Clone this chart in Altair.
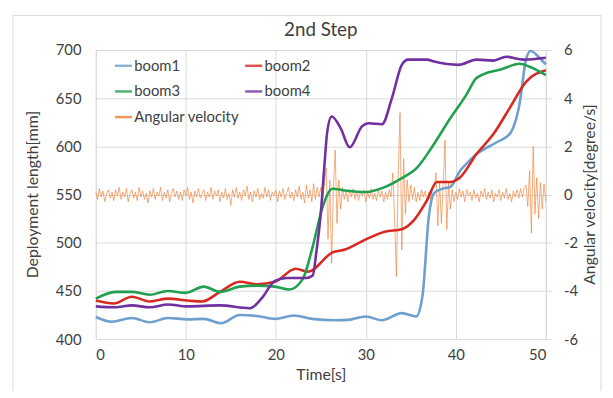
import altair as alt
import pandas as pd

# ---------------- data ----------------
series_names = ["boom1", "boom2", "boom3", "boom4", "Angular velocity"]
series_colors = ["#6E9FCE", "#D8281F", "#21A04F", "#7030A0", "#ED7D31"]

boom1_t = [0, 1.8, 4, 6, 8, 10.2, 12, 13.9, 16, 17.9, 19.9, 22, 24, 26.6, 28, 30, 31.8, 34, 35.6,
           36.3, 37, 37.6, 38.5, 39.4, 40.5, 41.2, 42.3, 44.5, 46, 47.1, 47.8, 48.3, 49.3, 50]
boom1_v = [423, 418, 422, 417.5, 422, 420.5, 421, 416.5, 425, 424, 421, 424.5, 421, 419.5, 420, 423.5,
           419.5, 427, 423.5, 445, 527, 551.5, 556, 558, 575, 582, 592, 604, 613, 645, 690, 699, 692, 685]

boom2_t = [0, 2, 4, 6, 8, 10.2, 11.8, 13.8, 16, 17.9, 19.9, 22.2, 23.6, 26.3, 27.7, 30, 32.1, 34,
           35.4, 36.8, 37.9, 39.4, 40.5, 42.3, 44.2, 46, 47.8, 50]
boom2_v = [440, 437, 444, 439, 442, 440, 439, 449, 459.5, 457, 459.5, 473, 470, 490, 493, 503.5, 511.5,
           514, 524, 544, 563, 563, 568, 592, 613, 640, 667, 679]

boom3_t = [0, 2.2, 4, 6, 8, 10, 12, 13.8, 16, 17.9, 19.9, 21.5, 23, 24.1, 25.2, 26.3, 27.5, 30, 32.1,
           34, 35.7, 37.6, 39.4, 41.2, 42.2, 43.1, 44.9, 47.1, 48.2, 50]
boom3_v = [442, 449, 449, 446, 450, 448, 454.5, 449, 454.5, 455.5, 454.5, 451.5, 462.5, 496, 537, 556,
           554.5, 552.6, 557.7, 567, 578, 602.8, 629.4, 654, 670, 675, 679.5, 685.7, 682.6, 674]

boom4_t = [0, 2.2, 4, 6, 8, 10.2, 13.8, 17.1, 18.4, 19.9, 21.2, 23.4, 24.1, 24.5, 25.0, 25.4, 25.7,
           26.2, 27.2, 28.2, 29.6, 30.3, 31.8, 32.9, 34, 34.7, 36.8, 37.6, 40.3, 42.3, 44.2, 45.6, 47.5, 50]
boom4_v = [434, 433, 435, 433, 436, 434, 435, 432, 442, 460.5, 463.5, 463.5, 466, 490, 531, 580, 614,
           631, 619, 599, 621, 624, 623, 650, 684.6, 690, 690, 688, 684.6, 690, 689, 693, 690, 692]

# angular velocity, sampled every 0.2 s from 0 to 50 s
ang_step = 0.2
ang_v = [
    0.1, -0.2, 0.25, -0.1, 0.15, -0.3, 0.05, 0.2, -0.15, 0.1,
    -0.25, 0.2, -0.05, 0.3, -0.2, 0.1, -0.1, 0.25, -0.3, 0.05,
    0.2, -0.15, 0.1, -0.25, 0.3, -0.1, 0.15, -0.2, 0.05, -0.35,
    0.15, -0.1, 0.25, -0.2, 0.1, -0.05, 0.3, -0.25, 0.1, -0.15,
    0.2, -0.3, 0.05, 0.25, -0.1, 0.15, -0.2, 0.1, -0.25, 0.2,
    -0.05, 0.3, -0.2, 0.1, -0.35, 0.15, -0.1, 0.25, -0.15, 0.05,
    0.2, -0.25, 0.1, -0.1, 0.3, -0.2, 0.15, -0.05, 0.2, -0.3,
    0.1, -0.15, 0.25, -0.2, 0.05, -0.45, 0.2, -0.1, 0.3, -0.15,
    0.1, -0.25, 0.2, -0.05, 0.35, -0.2, 0.1, -0.3, 0.15, -0.1,
    0.25, -0.2, 0.05, -0.15, 0.3, -0.1, 0.2, -0.25, 0.1, -0.05,
    0.2, -0.3, 0.15, -0.1, 0.25, -0.2, 0.05, 0.3, -0.15, 0.1,
    -0.25, 0.2, -0.1, 0.35, -0.2, 0.1, -0.35, 0.4, -0.15, 0.2,
    -0.3, 0.45, -0.2, 0.3, -0.1,
    # burst 1 (25.0 - 27.4)
    0.3, -0.3, 0.5, 1.1, -1.85, 0.6, -2.85, 0.3, 1.85, -1.2, 0.6, -0.6, 0.3,
    # quiet (27.6 - 32.8)
    -0.2, 0.15, -0.3, 0.2, -0.1, 0.25, -0.2, 0.1, -0.25, 0.15,
    -0.05, 0.2, -0.3, 0.1, -0.15, 0.25, -0.2, 0.05, -0.25, 0.2,
    -0.1, 0.15, -0.3, 0.1, -0.2, 0.2, -0.1,
    # burst 2 (33.0 - 34.8)
    0.9, -1.0, -3.4, 0.8, 3.4, -2.3, 1.5, -0.8, 0.6, -0.3,
    # quiet (35.0 - 37.4)
    0.4, -0.2, 0.3, -0.3, 0.1, -0.25, 0.2, -0.1, 0.15, -0.3, 0.1, -0.2, 0.3,
    # burst 3 (37.6 - 39.6)
    0.3, 0.9, -1.3, 0.5, -1.2, 0.4, 2.25, -1.45, 0.5, -0.6, 0.2,
    # quiet (39.8 - 47.6)
    -0.3, 0.1, -0.2, 0.25, -0.1, 0.15, -0.3, 0.2, -0.05, 0.1,
    -0.25, 0.2, -0.15, 0.05, -0.3, 0.15, -0.1, 0.25, -0.2, 0.1,
    -0.15, 0.2, -0.3, 0.05, -0.1, 0.2, -0.25, 0.1, -0.15, 0.25,
    -0.2, 0.05, -0.3, 0.15, -0.1, 0.2, -0.15, 0.25, -0.1, 0.3,
    # burst 4 (47.8 - 50.0)
    0.4, -0.5, 1.0, -1.6, 2.0, -0.8, 0.7, -1.0, 0.5, -0.6, 0.45, -0.3,
]

x_ticks = [0, 10, 20, 30, 40, 50]
left_ticks = [400, 450, 500, 550, 600, 650, 700]
right_ticks = [-6, -4, -2, 0, 2, 4, 6]

# ---------------- tables ----------------
rows = []
for name, ts, vs in [("boom1", boom1_t, boom1_v), ("boom2", boom2_t, boom2_v),
                     ("boom3", boom3_t, boom3_v), ("boom4", boom4_t, boom4_v)]:
    for t, v in zip(ts, vs):
        rows.append({"series": name, "t": t, "v": v})
booms = pd.DataFrame(rows)
ang = pd.DataFrame({"series": "Angular velocity",
                    "t": [round(i * ang_step, 2) for i in range(len(ang_v))],
                    "w": ang_v})

FONT = "Lato"
TXT = "#404040"
GRID = "#D9D9D9"

color = alt.Color("series:N",
                  scale=alt.Scale(domain=series_names, range=series_colors),
                  sort=series_names,
                  legend=alt.Legend(title=None, orient="none", legendX=18, legendY=6,
                                    direction="horizontal", columns=2,
                                    symbolType="stroke", symbolSize=300,
                                    symbolStrokeWidth=2.5, labelFontSize=15, labelFont=FONT,
                                    labelColor=TXT, labelOffset=1, columnPadding=0,
                                    rowPadding=8, padding=0, labelLimit=200))

xenc = alt.X("t:Q", scale=alt.Scale(domain=[0, 50], nice=False),
             axis=alt.Axis(values=x_ticks, title="Time[s]", grid=True, gridColor=GRID,
                           domain=False, ticks=False, labelPadding=9, labelFontSize=15,
                           titleFontSize=16, titlePadding=4, labelFont=FONT, titleFont=FONT,
                           labelColor=TXT, titleColor=TXT, titleFontWeight="normal"))

# light frame around the whole figure (decoration only)
frame = alt.Chart(pd.DataFrame({"k": [0]})).mark_rect(
    fill=None, stroke="#D9D9D9", strokeWidth=1
).encode(x=alt.value(-84), x2=alt.value(512), y=alt.value(-35), y2=alt.value(347))

ang_layer = alt.Chart(ang).mark_line(strokeWidth=0.8, opacity=0.8).encode(
    x=xenc,
    y=alt.Y("w:Q", scale=alt.Scale(domain=[-6, 6], nice=False),
            axis=alt.Axis(orient="right", values=right_ticks, title="Angular velocity[degree/s]",
                          labelExpr="'' + datum.value",
                          grid=False, domain=False, ticks=True, tickColor=GRID, tickSize=6,
                          labelPadding=12, labelFontSize=15, titleFontSize=16, labelFont=FONT,
                          titleFont=FONT, labelColor=TXT, titleColor=TXT,
                          titleFontWeight="normal", titleAngle=270, titleX=44, titleY=146,
                          titleAlign="center", titleBaseline="middle")),
    color=color,
    order="t:Q",
)

boom_layer = alt.Chart(booms).mark_line(strokeWidth=2.6, interpolate="monotone").encode(
    x=xenc,
    y=alt.Y("v:Q", scale=alt.Scale(domain=[400, 700], nice=False),
            axis=alt.Axis(values=left_ticks, title="Deployment length[mm]", grid=True,
                          gridColor=GRID, domain=False, ticks=False, labelPadding=15,
                          labelFontSize=15, titleFontSize=16, labelFont=FONT, titleFont=FONT,
                          labelColor=TXT, titleColor=TXT, titleFontWeight="normal",
                          titleAngle=270, titleX=-64, titleY=146, titleAlign="center",
                          titleBaseline="middle")),
    color=color,
    order="t:Q",
)

chart = alt.layer(ang_layer, boom_layer, frame).resolve_scale(y="independent").properties(
    width=456, height=293,
    title=alt.Title("2nd Step", fontSize=19, font=FONT, color=TXT, fontWeight="normal",
                    anchor="middle", offset=-25),
    autosize=alt.AutoSizeParams(type="none"),
    padding={"left": 89, "top": 40, "right": 60, "bottom": 50},
).configure_view(stroke=None).configure(background="white")

chart.save("out.html", embed_options={"renderer": "svg", "actions": False})
